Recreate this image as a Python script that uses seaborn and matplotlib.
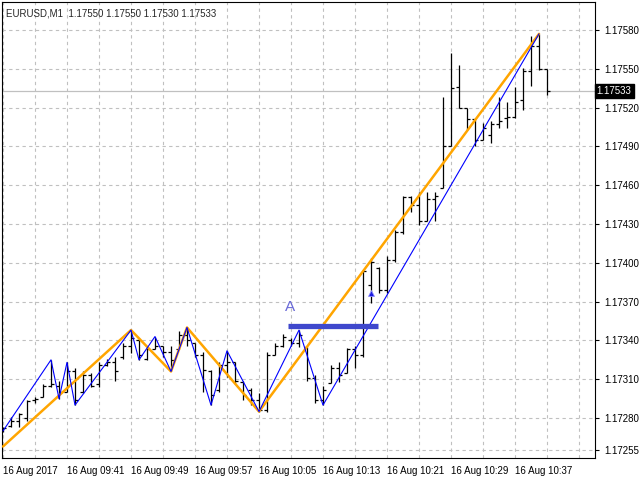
import numpy as np
import pandas as pd
import matplotlib
matplotlib.use("Agg")
import matplotlib.pyplot as plt
import seaborn as sns

# EURUSD M1 bars, 16 Aug 2017 from 09:33
start_time = "2017-08-16 09:33"
opens = [1.17271, 1.17274, 1.17278, 1.17280, 1.17294, 1.17296, 1.17305, 1.17305, 1.17300, 1.17316,
         1.17300, 1.17313, 1.17306, 1.17321, 1.17323, 1.17327, 1.17336, 1.17340, 1.17326, 1.17333,
         1.17336, 1.17331, 1.17333, 1.17344, 1.17338, 1.17329, 1.17316, 1.17302, 1.17321, 1.17323,
         1.17308, 1.17302, 1.17294, 1.17286, 1.17329, 1.17336, 1.17340, 1.17338, 1.17335, 1.17311,
         1.17294, 1.17307, 1.17319, 1.17315, 1.17333, 1.17329, 1.17383, 1.17396, 1.17379, 1.17402,
         1.17424, 1.17451, 1.17445, 1.17432, 1.17449, 1.17458, 1.17490, 1.17536, 1.17520, 1.17511,
         1.17495, 1.17499, 1.17507, 1.17512, 1.17513, 1.17526, 1.17548, 1.17568, 1.17550]
highs = [1.17273, 1.17281, 1.17284, 1.17294, 1.17296, 1.17306, 1.17325, 1.17309, 1.17323, 1.17319,
         1.17316, 1.17315, 1.17323, 1.17326, 1.17327, 1.17338, 1.17348, 1.17342, 1.17334, 1.17343,
         1.17336, 1.17336, 1.17347, 1.17350, 1.17338, 1.17331, 1.17317, 1.17323, 1.17332, 1.17323,
         1.17309, 1.17303, 1.17299, 1.17331, 1.17338, 1.17345, 1.17342, 1.17348, 1.17335, 1.17313,
         1.17305, 1.17321, 1.17323, 1.17334, 1.17336, 1.17394, 1.17404, 1.17397, 1.17405, 1.17425,
         1.17452, 1.17452, 1.17455, 1.17455, 1.17455, 1.17528, 1.17562, 1.17553, 1.17520, 1.17511,
         1.17508, 1.17510, 1.17528, 1.17524, 1.17536, 1.17551, 1.17575, 1.17577, 1.17550]
lows = [1.17269, 1.17273, 1.17273, 1.17278, 1.17292, 1.17296, 1.17304, 1.17295, 1.17300, 1.17290,
        1.17299, 1.17304, 1.17304, 1.17320, 1.17309, 1.17326, 1.17330, 1.17325, 1.17325, 1.17333,
        1.17327, 1.17316, 1.17333, 1.17336, 1.17327, 1.17300, 1.17290, 1.17300, 1.17312, 1.17306,
        1.17294, 1.17290, 1.17285, 1.17285, 1.17329, 1.17335, 1.17336, 1.17335, 1.17309, 1.17292,
        1.17290, 1.17307, 1.17308, 1.17315, 1.17319, 1.17327, 1.17369, 1.17377, 1.17377, 1.17401,
        1.17422, 1.17439, 1.17429, 1.17432, 1.17432, 1.17458, 1.17490, 1.17520, 1.17503, 1.17490,
        1.17495, 1.17493, 1.17504, 1.17504, 1.17512, 1.17518, 1.17537, 1.17549, 1.17530]
closes = [1.17272, 1.17278, 1.17283, 1.17293, 1.17295, 1.17305, 1.17306, 1.17300, 1.17316, 1.17294,
          1.17313, 1.17305, 1.17321, 1.17323, 1.17316, 1.17336, 1.17342, 1.17329, 1.17333, 1.17336,
          1.17331, 1.17325, 1.17344, 1.17340, 1.17329, 1.17317, 1.17298, 1.17321, 1.17323, 1.17309,
          1.17298, 1.17294, 1.17286, 1.17329, 1.17336, 1.17343, 1.17338, 1.17344, 1.17311, 1.17294,
          1.17302, 1.17319, 1.17313, 1.17333, 1.17329, 1.17394, 1.17401, 1.17379, 1.17402, 1.17424,
          1.17451, 1.17445, 1.17432, 1.17449, 1.17452, 1.17490, 1.17535, 1.17520, 1.17511, 1.17495,
          1.17504, 1.17507, 1.17510, 1.17513, 1.17524, 1.17548, 1.17568, 1.17550, 1.17533]

# zigzag pivots (bar index, price)
blue_idx = [0, 6, 7, 8, 9, 16, 17, 19, 21, 23, 26, 28, 32, 37, 40, 67]
blue_px = [1.17270, 1.17325, 1.17295, 1.17323, 1.17290, 1.17348, 1.17325, 1.17343,
           1.17316, 1.17350, 1.17290, 1.17332, 1.17285, 1.17348, 1.17290, 1.17577]
orange_idx = [0, 16, 21, 23, 32, 67]
orange_px = [1.17258, 1.17348, 1.17316, 1.17350, 1.17285, 1.17577]

# level "A" and signal arrow
level_px = 1.17351
level_from, level_to = 35.6, 46.9
label_a_idx, label_a_px = 35.9, 1.17366
arrow_idx, arrow_px = 46, 1.17377

bid = 1.17533
yticks = [1.17255, 1.17280, 1.17310, 1.17340, 1.17370, 1.17400, 1.17430,
          1.17460, 1.17490, 1.17520, 1.17550, 1.17580]
header = "EURUSD,M1  1.17550 1.17550 1.17530 1.17533"

sns.set_style("white")
plt.rcParams['font.family'] = ['Liberation Sans', 'DejaVu Sans']

times = pd.date_range(start_time, periods=len(opens), freq="min")
x = np.arange(len(opens))

fig = plt.figure(figsize=(6.4, 4.8), dpi=100)
ax = fig.add_axes([2 / 640, 22 / 480, 593 / 640, 456 / 480])

grid_kw = dict(color='#c0c0c0', lw=0.8, ls=(0, (3, 3)))
for yv in yticks:
    ax.axhline(yv, zorder=0, **grid_kw)
for xv in range(0, 76, 4):
    ax.axvline(xv, zorder=0, **grid_kw)
ax.axhline(bid, color='#c0c0c0', lw=0.9, zorder=1)

# OHLC bars
ax.vlines(x, lows, highs, color='black', lw=0.9, zorder=2)
ax.hlines(opens, x - 0.4, x, color='black', lw=0.9, zorder=2)
ax.hlines(closes, x, x + 0.4, color='black', lw=0.9, zorder=2)

sns.lineplot(x=orange_idx, y=orange_px, estimator=None, sort=False, color='#ffa500',
             lw=1.8, ax=ax, zorder=3)
sns.lineplot(x=blue_idx, y=blue_px, estimator=None, sort=False, color='#0000ff',
             lw=0.8, ax=ax, zorder=4)

ax.hlines(level_px, level_from, level_to, color='#3f48cc', lw=3.8, zorder=5)
ax.text(label_a_idx, label_a_px, "A", color='#6a6ad8', fontsize=11, ha='center', va='center')
ax.plot(arrow_idx, arrow_px, marker='^', ms=5, color='#1a1ae0', mec='#9090ff', mew=0.6, zorder=6)

ax.set_xlim(-0.125, 74)
ax.set_ylim(1.1724910, 1.1760165)

ax.yaxis.tick_right()
ax.set_yticks(yticks)
ax.set_yticklabels([f"{v:.5f}" for v in yticks])
ax.tick_params(axis='y', direction='out', length=3, width=0.8, pad=4, labelsize=7, colors='black')

major = list(range(0, len(opens), 8))
labels = ["16 Aug 2017"] + [times[i].strftime("16 Aug %H:%M") for i in major[1:]]
ax.set_xticks(major)
ax.set_xticklabels(labels, ha='left')
ax.set_xticks(range(4, len(opens), 8), minor=True)
ax.tick_params(axis='x', which='major', direction='out', length=4, width=0.8, pad=2,
               labelsize=7, colors='black')
ax.tick_params(axis='x', which='minor', direction='out', length=2, width=0.8)

for s in ax.spines.values():
    s.set_color('black')
    s.set_linewidth(0.8)

ax.text(1.003, bid, f"{bid:.5f}", transform=ax.get_yaxis_transform(), color='white',
        fontsize=7, ha='left', va='center',
        bbox=dict(boxstyle='square,pad=0.2', fc='black', ec='black'))

fig.text(6 / 640, 1 - 13 / 480, header, fontsize=7, ha='left', va='center')

fig.savefig("out.png", dpi=100)
